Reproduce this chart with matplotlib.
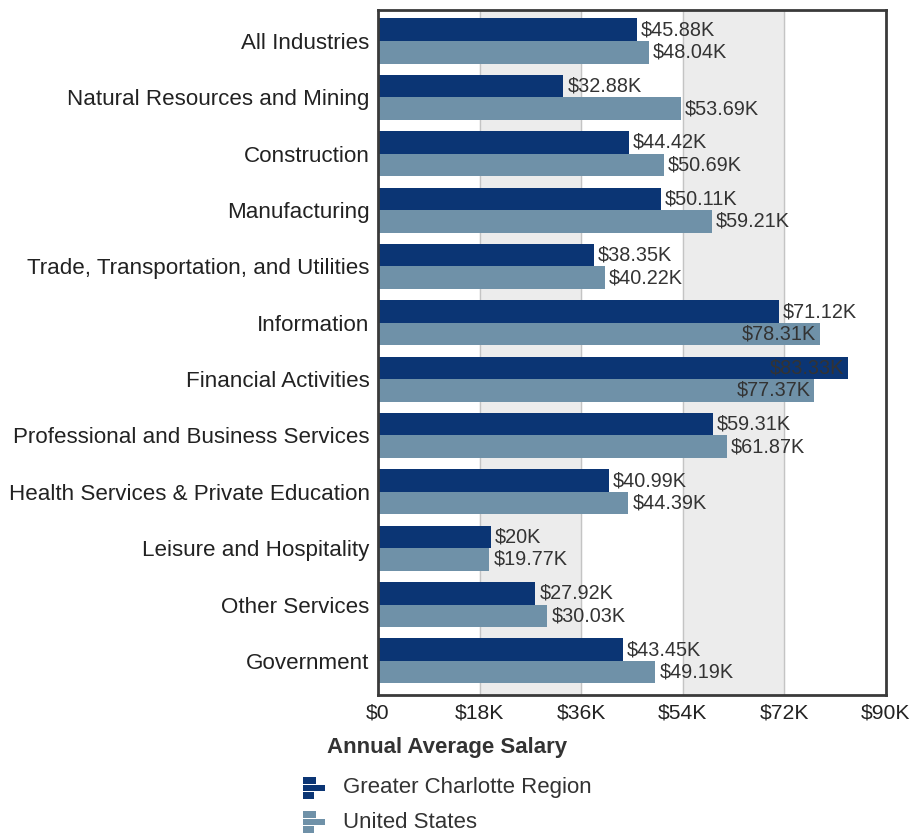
import matplotlib.pyplot as plt
from matplotlib.patches import Rectangle

plt.rcParams["font.family"] = ["Liberation Sans", "DejaVu Sans"]

industries = [
    "All Industries",
    "Natural Resources and Mining",
    "Construction",
    "Manufacturing",
    "Trade, Transportation, and Utilities",
    "Information",
    "Financial Activities",
    "Professional and Business Services",
    "Health Services & Private Education",
    "Leisure and Hospitality",
    "Other Services",
    "Government",
]
charlotte = [45.88, 32.88, 44.42, 50.11, 38.35, 71.12, 83.33, 59.31, 40.99, 20, 27.92, 43.45]
us = [48.04, 53.69, 50.69, 59.21, 40.22, 78.31, 77.37, 61.87, 44.39, 19.77, 30.03, 49.19]
xticks = [0, 18, 36, 54, 72, 90]
xtick_labels = ["$0", "$18K", "$36K", "$54K", "$72K", "$90K"]

dark = "#0b3574"
light = "#6f91a8"
txt = "#333333"

fig = plt.figure(figsize=(9.13, 8.35), dpi=100)
ax = fig.add_axes([0.414, 0.168, 0.556, 0.820])

# background bands and grid lines
for lo in (18, 54):
    ax.axvspan(lo, lo + 18, color="#ececec", zorder=0)
for x in xticks[1:-1]:
    ax.axvline(x, color="#c4c4c4", lw=1, zorder=0.5)

h = 0.4
y = list(range(len(industries)))
ax.barh([i - h / 2 for i in y], charlotte, height=h, color=dark, zorder=2)
ax.barh([i + h / 2 for i in y], us, height=h, color=light, zorder=2)


def label(val, ypos):
    s = f"${val:g}K"
    if val > 74:
        ax.text(val - 0.6, ypos, s, ha="right", va="center", fontsize=14.3, color=txt, zorder=3)
    else:
        ax.text(val + 0.7, ypos, s, ha="left", va="center", fontsize=14.3, color=txt, zorder=3)


for i in y:
    label(charlotte[i], i - h / 2)
    label(us[i], i + h / 2)

ax.set_xlim(0, 90)
ax.set_ylim(11.6, -0.55)
ax.set_yticks(y)
ax.set_yticklabels(industries, fontsize=16.1, color="#222222")
ax.set_xticks(xticks)
ax.set_xticklabels(xtick_labels, fontsize=15.2, color="#222222")
ax.tick_params(length=0, pad=6)
for sp in ax.spines.values():
    sp.set_color("#3a3a3a")
    sp.set_linewidth(2)

fig.text(447 / 913, 1 - 748 / 835, "Annual Average Salary", ha="center", va="center",
         fontsize=16, fontweight="bold", color="#333333")

# legend with little bar icons
for name, col, yc in [("Greater Charlotte Region", dark, 788), ("United States", light, 822)]:
    top = yc - 11
    for dy, w in [(0, 13), (7.5, 22), (15, 11)]:
        fig.patches.append(Rectangle((303 / 913, 1 - (top + dy + 6.6) / 835), w / 913, 6.6 / 835,
                                     transform=fig.transFigure, color=col, lw=0))
    fig.text(343 / 913, 1 - yc / 835, name, ha="left", va="center", fontsize=16, color=txt)

fig.savefig("out.png", dpi=100)
